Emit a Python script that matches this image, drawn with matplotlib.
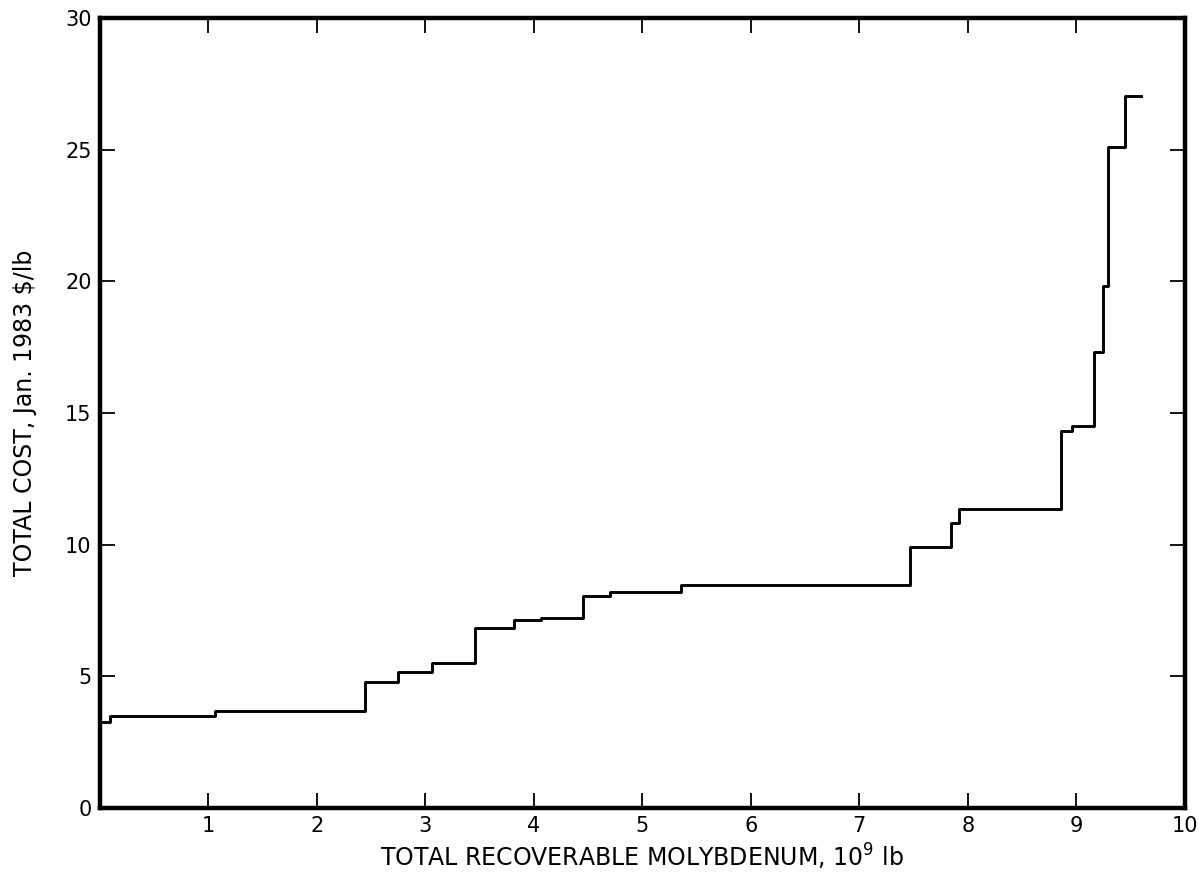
import matplotlib
matplotlib.use('Agg')
import matplotlib.pyplot as plt
import numpy as np

# step edges (10^9 lb) and cost level for each step ($/lb)
step_x = [0.0, 0.09, 1.06, 2.44, 2.75, 3.06, 3.46, 3.82, 4.07, 4.45, 4.70,
          5.36, 7.47, 7.85, 7.92, 8.86, 8.96, 9.16, 9.25, 9.29, 9.45]
step_cost = [3.28, 3.50, 3.69, 4.78, 5.17, 5.51, 6.83, 7.12, 7.22, 8.06, 8.20,
             8.48, 9.92, 10.84, 11.35, 14.33, 14.49, 17.32, 19.83, 25.1, 27.03]
x_end = 9.60

x_ticks = [1, 2, 3, 4, 5, 6, 7, 8, 9, 10]
y_ticks = [0, 5, 10, 15, 20, 25, 30]

plt.rcParams['font.family'] = ['DejaVu Sans']
plt.rcParams['mathtext.fontset'] = 'dejavusans'

fig = plt.figure(figsize=(11.99, 8.77), dpi=100)
ax = fig.add_axes([0.0834, 0.0787, 0.9046, 0.9008])

xs = np.append(step_x, x_end)
ys = np.append(step_cost, step_cost[-1])
ax.step(xs, ys, where='post', color='black', lw=2.1)

ax.set_xlim(0, 10)
ax.set_ylim(0, 30)
ax.set_xticks(x_ticks)
ax.set_yticks(y_ticks)
ax.set_xticklabels([str(t) for t in x_ticks])
ax.set_yticklabels([str(t) for t in y_ticks])

ax.tick_params(direction='in', length=11, width=1.3, top=True, right=True,
               labelsize=15, pad=6)
for s in ax.spines.values():
    s.set_linewidth(3.2)

ax.set_xlabel(r'TOTAL RECOVERABLE MOLYBDENUM, 10$^{9}$ lb', fontsize=17, labelpad=4)
ax.set_ylabel('TOTAL COST, Jan. 1983 $/lb', fontsize=17, labelpad=20)

fig.savefig('out.png', dpi=100)
